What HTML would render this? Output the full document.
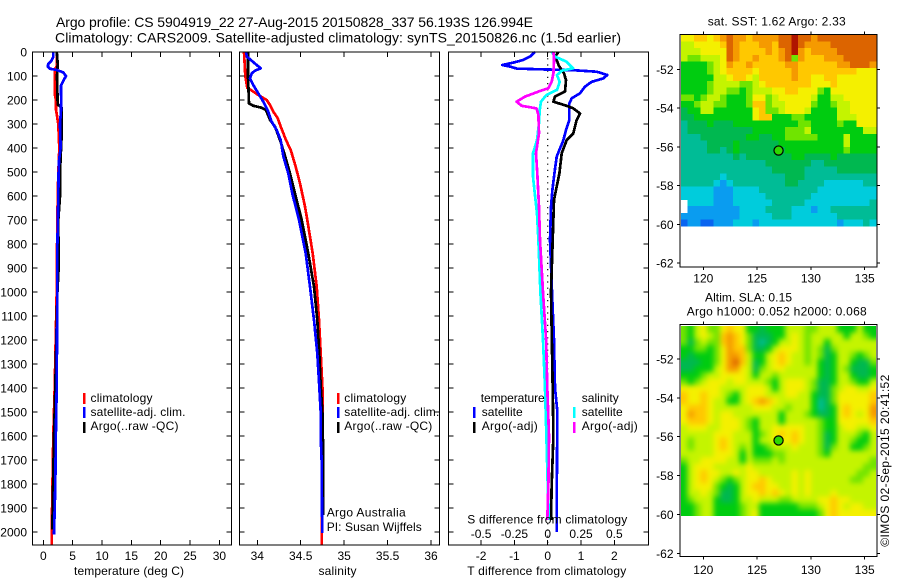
<!DOCTYPE html>
<html lang="en">
<head>
<meta charset="utf-8">
<title>Argo profile 5904919_22</title>
<style>
html,body{margin:0;padding:0;background:#fff;width:900px;height:580px;overflow:hidden}
svg{display:block}
text{font-family:"Liberation Sans",sans-serif;font-size:12px;fill:#000}
.title{font-size:14px}
.small{font-size:12px}
</style>
</head>
<body>
<svg id="chart" width="900" height="580" viewBox="0 0 900 580" xmlns="http://www.w3.org/2000/svg">
  <defs>
    <clipPath id="clip-sla"><rect x="681" y="326" width="195" height="190"/></clipPath>
    <filter id="sla-blur" x="-10%" y="-10%" width="120%" height="120%" color-interpolation-filters="sRGB"><feGaussianBlur stdDeviation="2.6"/></filter>
  </defs>
  <rect width="900" height="580" fill="#fff"/>

  <text class="title" x="56" y="27" textLength="477" lengthAdjust="spacing">Argo profile: CS 5904919_22 27-Aug-2015 20150828_337 56.193S 126.994E</text>
  <text class="title" x="55" y="42.5" textLength="566" lengthAdjust="spacing">Climatology: CARS2009. Satellite-adjusted climatology: synTS_20150826.nc (1.5d earlier)</text>

  <g id="layer-marks"></g>
  <g id="layer-axes"></g>

  <text x="74" y="575" textLength="110" lengthAdjust="spacing">temperature (deg C)</text>
  <text x="318.5" y="575" textLength="38" lengthAdjust="spacing">salinity</text>
  <text x="467.3" y="575" textLength="159" lengthAdjust="spacing">T difference from climatology</text>
  <text x="467.3" y="523.5" textLength="160" lengthAdjust="spacing">S difference from climatology</text>

  <g>
    <rect x="83" y="393" width="2.5" height="11" fill="#f00"/>
    <text x="90.5" y="402" textLength="62" lengthAdjust="spacing">climatology</text>
    <rect x="83" y="407" width="2.5" height="11" fill="#00f"/>
    <text x="90.5" y="416" textLength="95" lengthAdjust="spacing">satellite-adj. clim.</text>
    <rect x="83" y="422" width="2.5" height="11" fill="#000"/>
    <text x="90.5" y="430" textLength="88" lengthAdjust="spacing">Argo(..raw -QC)</text>
  </g>
  <g>
    <rect x="337" y="393" width="2.5" height="11" fill="#f00"/>
    <text x="344.3" y="402" textLength="62" lengthAdjust="spacing">climatology</text>
    <rect x="337" y="407" width="2.5" height="11" fill="#00f"/>
    <text x="344.3" y="416" textLength="95" lengthAdjust="spacing">satellite-adj. clim.</text>
    <rect x="337" y="422" width="2.5" height="11" fill="#000"/>
    <text x="344.3" y="430" textLength="88" lengthAdjust="spacing">Argo(..raw -QC)</text>
  </g>
  <text x="326.7" y="516.7" textLength="79" lengthAdjust="spacing">Argo Australia</text>
  <text x="326.7" y="531" textLength="95" lengthAdjust="spacing">PI: Susan Wijffels</text>

  <g>
    <text x="480.7" y="402" textLength="64" lengthAdjust="spacing">temperature</text>
    <rect x="473" y="407" width="2.5" height="11" fill="#00f"/>
    <text x="481.7" y="416" textLength="41" lengthAdjust="spacing">satellite</text>
    <rect x="473" y="422" width="2.5" height="11" fill="#000"/>
    <text x="481.7" y="430" textLength="56" lengthAdjust="spacing">Argo(-adj)</text>
    <text x="581.7" y="402" textLength="37" lengthAdjust="spacing">salinity</text>
    <rect x="573" y="407" width="2.5" height="11" fill="#0ff"/>
    <text x="581.7" y="416" textLength="41" lengthAdjust="spacing">satellite</text>
    <rect x="573" y="422" width="2.5" height="11" fill="#f0f"/>
    <text x="581.7" y="430" textLength="56" lengthAdjust="spacing">Argo(-adj)</text>
  </g>

  <text x="707.7" y="25.7" textLength="138" lengthAdjust="spacing">sat. SST: 1.62 Argo: 2.33</text>
  <text x="705" y="301.7" textLength="87" lengthAdjust="spacing">Altim. SLA: 0.15</text>
  <text x="686.7" y="315.7" textLength="180" lengthAdjust="spacing">Argo h1000: 0.052 h2000: 0.068</text>
  <text transform="translate(889 546.7) rotate(-90)" x="0" y="0" textLength="172" lengthAdjust="spacing">©IMOS 02-Sep-2015 20:41:52</text>
</svg>

<script>
const depthTicks = [0,100,200,300,400,500,600,700,800,900,1000,1100,1200,1300,1400,1500,1600,1700,1800,1900,2000];
const tempTicks = [0,5,10,15,20,25,30];
const salTicks = [34,34.5,35,35.5,36];
const tDiffTicks = [-2,-1,0,1,2];
const sDiffTicks = [-0.5,-0.25,0,0.25,0.5];
const lonTicks = [120,125,130,135];
const latTicks = [-52,-54,-56,-58,-60,-62];

const tempClimDepth = [0,60,70,100,180,200,240,300,400,450,500,700,1000,1400,1600,1850,2000,2054];
const tempClimValues = [2.3,2.3,2.0,2.0,2.0,2.16,2.16,2.55,2.72,2.66,2.55,2.39,2.28,1.94,1.7,1.53,1.43,1.43];
const tempArgoDepth = [0,50,100,220,230,250,360,500,600,700,900,1000,1400,1600,1900,1990];
const tempArgoValues = [2.3,2.45,2.33,2.45,3.1,3.15,3.1,2.85,2.85,2.56,2.6,2.4,2.05,1.83,1.6,1.55];
const tempSatDepth = [0,20,35,50,60,70,75,85,100,120,140,200,250,300,400,450,500,600,800,1000,1200,1400,1550,1800,1900,2010];
const tempSatValues = [1.7,1.7,1.43,0.85,0.75,1.14,2.3,3.4,3.87,3.4,3.0,3.05,3.0,2.85,2.95,2.7,2.6,2.55,2.4,2.4,2.33,2.28,2.16,2.05,1.94,1.83];

const salClimDepth = [0,100,150,158,179,200,221,249,276,311,367,408,478,547,644,700,839,978,1117,1255,1394,1500,1700,1850,2054];
const salClimValues = [33.847,33.862,33.885,33.924,34.012,34.108,34.146,34.185,34.235,34.269,34.33,34.384,34.442,34.492,34.549,34.576,34.638,34.684,34.71,34.73,34.749,34.755,34.755,34.745,34.74];
const salArgoDepth = [0,100,214,224,232,242,283,311,367,422,506,589,700,839,978,1117,1255,1394,1500,1700,1930];
const salArgoValues = [33.893,33.893,33.904,33.954,34.05,34.1,34.146,34.204,34.261,34.311,34.376,34.434,34.511,34.587,34.653,34.691,34.714,34.73,34.75,34.76,34.76];
const salSatDepth = [0,19,33,54,68,78,89,110,138,172,214,249,290,325,367,436,506,589,700,839,978,1117,1255,1394,1500,1600,1700,1900,2005];
const salSatValues = [33.87,33.88,33.924,33.993,34.04,33.974,33.935,33.916,33.954,34.012,34.081,34.127,34.165,34.223,34.269,34.3,34.357,34.403,34.48,34.557,34.607,34.653,34.691,34.714,34.73,34.73,34.74,34.745,34.748];

const tDiffSatDepth = [0,19,33,44,54,61,69,72,76,82,96,110,124,144,172,193,214,283,325,367,436,506,575,644,783,1000,1200,1400,1500,1700,1900,2000];
const tDiffSatValues = [-0.381,-0.531,-0.731,-1.03,-1.362,-1.13,-0.93,-0.23,0.77,1.47,1.79,1.67,1.32,1.12,0.97,0.72,0.65,0.65,0.55,0.47,0.27,0.2,0.14,0.1,0.07,0.13,0.19,0.22,0.29,0.28,0.27,0.27];
const tDiffArgoDepth = [0,19,40,54,89,117,165,186,207,224,235,256,283,339,367,422,506,561,617,783,1000,1400,1600,1800,1950];
const tDiffArgoValues = [0.32,0.22,0.29,0.32,0.49,0.55,0.52,0.22,0.17,0.57,0.77,0.97,0.87,0.77,0.57,0.42,0.35,0.27,0.19,0.15,0.1,0.15,0.17,0.12,0.1];
const sDiffSatDepth = [0,19,40,68,78,96,124,158,179,207,242,297,367,422,519,575,672,783,1000,1200,1400,1600,1800,1950];
const sDiffSatValues = [0.03,0.055,0.14,0.19,0.105,0.07,0.09,0.07,-0.01,-0.05,-0.06,-0.065,-0.08,-0.11,-0.11,-0.1,-0.08,-0.07,-0.055,-0.035,-0.02,-0.01,0,0.01];
const sDiffArgoDepth = [0,33,89,124,151,165,186,207,224,235,263,339,422,506,644,783,1000,1200,1400,1600,1800,1950];
const sDiffArgoValues = [0.043,0.048,0.043,0.03,0.005,-0.07,-0.17,-0.233,-0.195,-0.083,-0.07,-0.065,-0.088,-0.078,-0.065,-0.058,-0.035,-0.012,-0.003,0.01,0.005,-0.003];

const profileLon = [126.994];
const profileLat = [-56.193];

const mapPalette = ['#0a64f0','#0a9cf0','#00ccdc','#00bc96','#00b850','#00cc10','#70e400','#c4f400','#f4f000','#ffc800','#f59a00','#dc6400','#b01400'];

const sstGrid = [
[8,8,9,9,8,9,10,11,10,10,9,10,10,10,10,11,11,12,11,11,10,11,11,11,11,11,11,11,11,11],
[7,7,8,8,8,8,9,11,10,9,9,9,10,10,9,11,11,12,11,10,10,10,10,11,11,11,11,11,11,11],
[7,7,7,8,8,8,8,11,10,9,9,9,9,10,9,10,11,12,10,9,10,10,10,10,11,11,11,11,11,11],
[7,6,6,7,7,7,8,11,10,9,9,10,9,9,9,10,11,6,10,9,9,9,10,10,10,11,11,11,11,11],
[5,5,5,5,6,7,8,10,9,9,10,9,9,9,9,9,10,10,9,9,9,9,9,9,10,10,11,11,11,10],
[5,5,5,5,6,7,8,9,9,9,9,8,9,9,9,9,9,10,9,9,9,9,9,9,9,9,9,8,8,8],
[5,5,5,5,5,7,7,8,9,9,8,7,9,9,9,9,9,10,9,9,8,8,9,9,8,8,8,8,8,8],
[5,5,5,5,6,7,7,7,7,6,6,7,8,9,9,9,9,9,9,9,8,8,8,9,8,8,8,8,8,8],
[5,5,5,5,6,7,7,6,6,5,6,7,7,7,8,8,9,9,8,8,8,6,5,8,8,8,8,8,8,8],
[6,6,5,6,7,7,6,5,5,5,6,8,8,6,7,8,8,8,8,8,7,5,5,7,7,8,8,8,8,8],
[5,5,6,7,7,6,6,5,5,5,6,9,9,6,7,7,8,8,8,8,6,5,5,6,7,7,8,8,8,8],
[4,5,5,7,7,5,5,5,5,5,5,8,9,6,6,7,8,8,8,7,5,5,5,5,7,7,8,8,8,8],
[4,4,5,5,5,5,5,5,5,5,5,8,9,9,5,5,5,6,6,5,5,5,5,5,7,7,7,8,8,8],
[3,4,4,4,5,4,4,4,5,5,5,5,5,5,5,5,5,5,6,6,5,5,5,5,6,5,5,8,8,8],
[3,4,4,4,4,4,4,4,4,4,4,5,5,5,5,5,6,6,6,7,5,5,5,5,5,5,5,5,7,7],
[3,3,3,4,4,4,4,4,4,4,5,5,4,4,5,5,6,6,6,6,6,5,5,5,5,7,5,5,5,5],
[3,3,3,3,4,4,4,4,5,4,4,4,4,4,4,5,5,5,5,5,5,5,5,5,5,7,5,5,5,5],
[3,3,3,3,4,4,3,4,5,4,4,4,4,4,4,4,5,5,5,5,5,5,5,5,5,6,5,5,5,5],
[3,3,3,3,3,3,3,3,4,3,4,4,4,4,4,4,4,5,5,4,4,4,4,5,4,4,4,4,4,4],
[3,3,3,3,3,3,3,3,3,3,3,3,3,4,4,4,4,4,4,4,3,3,4,4,4,4,4,4,4,4],
[3,3,3,3,3,3,3,3,3,3,3,3,3,3,4,4,4,4,4,3,3,3,3,3,4,4,4,4,4,4],
[3,3,3,3,3,3,2,3,3,3,3,3,3,3,3,3,4,4,4,3,3,3,3,3,3,3,3,3,3,3],
[3,3,3,3,3,2,1,2,3,3,3,3,3,3,3,3,4,4,3,3,3,3,2,2,2,2,2,2,3,3],
[2,2,2,2,2,1,1,1,2,2,2,2,3,3,3,3,3,3,3,3,3,2,2,2,2,2,2,2,2,2],
[2,2,2,2,2,1,1,1,2,2,2,2,2,3,3,3,3,3,3,3,2,2,2,2,2,2,2,2,2,2],
[-1,2,2,2,2,1,1,1,2,2,2,2,2,2,3,3,3,3,3,2,2,2,2,2,2,2,2,2,2,3],
[-1,1,1,1,1,1,1,1,1,2,2,2,2,3,3,3,3,2,2,2,1,2,2,3,3,3,3,3,3,3],
[1,1,1,1,1,1,1,1,1,2,2,2,2,2,3,3,3,2,2,2,2,2,2,2,3,3,3,3,3,3],
[0,1,1,0,0,1,1,1,2,2,2,1,2,2,2,2,2,2,2,2,2,2,2,2,1,2,2,2,3,2]
];

const slaGrid = [
[6,5,7,8,6,6,8,9,8,8,5,5,4,5,5,5,7,7,7,6,6,7,7,7,5,5,5,7,5,5],
[6,5,7,8,7,6,9,10,9,8,6,4,4,4,5,5,7,8,7,6,7,7,7,7,7,5,7,7,6,5],
[6,4,6,7,6,6,9,10,9,8,6,4,3,4,5,7,7,8,7,6,7,7,5,7,7,7,7,7,7,7],
[5,5,6,6,5,6,8,10,9,9,6,4,4,5,7,8,8,8,7,6,7,6,4,6,7,7,7,7,7,7],
[5,4,5,5,5,6,8,10,10,9,7,5,5,7,8,9,8,7,7,6,7,6,4,5,7,7,6,5,6,7],
[4,4,4,5,5,6,8,10,11,9,7,4,5,7,8,9,8,7,7,6,7,5,4,5,7,7,5,4,4,6],
[4,4,5,5,5,7,8,10,10,8,7,4,6,7,8,8,7,7,7,7,7,5,4,5,7,6,4,4,4,5],
[5,5,5,6,7,7,8,8,8,8,7,5,7,7,6,7,7,7,7,7,7,5,4,5,7,7,5,4,4,5],
[6,5,6,7,8,8,8,7,8,8,7,7,7,6,5,7,8,8,8,7,6,4,4,5,7,7,6,5,5,7],
[8,8,8,8,8,8,7,7,7,7,8,8,8,7,5,7,8,8,8,7,6,4,4,6,7,8,8,7,7,8],
[9,8,8,9,8,8,7,6,5,7,8,8,8,7,7,7,8,8,7,7,5,4,4,6,8,8,8,8,8,9],
[9,8,8,9,8,7,7,5,5,7,8,9,10,9,8,7,7,7,7,7,5,3,4,6,8,8,8,8,8,9],
[8,9,9,9,8,7,7,7,7,7,7,8,8,8,7,7,6,7,7,7,5,3,4,5,8,9,8,8,8,10],
[8,10,9,9,8,7,8,8,7,7,7,7,7,7,7,5,7,7,7,6,5,4,4,5,8,9,8,7,8,10],
[8,9,9,9,8,7,8,8,8,7,6,5,7,7,7,5,7,7,7,7,7,6,5,5,8,8,8,8,8,9],
[7,8,8,8,7,7,8,8,8,7,6,5,7,7,8,8,8,8,8,7,7,6,5,5,7,8,8,7,7,8],
[7,7,7,7,7,8,8,8,7,7,7,5,6,7,8,9,8,9,8,7,7,6,4,5,7,7,7,6,5,7],
[7,6,7,7,7,8,9,8,7,7,7,5,7,7,8,8,8,9,8,7,7,6,4,5,7,7,6,5,5,7],
[7,6,7,7,7,8,9,8,7,6,7,5,5,6,7,7,7,8,7,7,7,6,4,6,7,7,5,5,6,7],
[7,7,7,7,7,8,8,8,7,5,7,5,5,5,6,6,7,7,7,7,7,6,5,7,7,7,7,7,7,7],
[6,7,7,8,8,8,8,7,7,5,7,6,6,6,7,6,7,7,7,7,7,7,7,7,7,7,7,7,7,6],
[5,7,8,8,8,7,7,7,7,7,8,7,7,7,7,7,7,7,7,7,7,7,7,7,7,7,7,7,6,6],
[5,7,8,9,8,8,7,7,8,7,8,8,7,7,7,7,7,8,7,8,7,7,7,7,7,7,7,6,6,7],
[5,7,8,9,8,7,6,5,6,7,8,8,9,8,7,7,7,8,7,8,7,7,7,7,7,7,6,6,7,7],
[5,7,8,8,8,6,5,4,5,7,8,9,9,8,8,7,7,8,7,8,7,7,7,7,7,7,7,7,7,7],
[5,7,7,8,7,6,4,4,5,7,8,8,9,8,9,8,7,8,7,8,7,7,7,8,7,7,7,7,7,7],
[5,6,7,7,7,5,4,4,5,7,7,8,7,7,7,6,6,7,7,7,7,8,8,9,8,8,7,7,7,7],
[5,5,6,7,7,5,5,5,5,6,7,7,5,5,5,5,5,5,6,6,6,7,8,9,8,7,8,8,7,7],
[5,5,6,7,7,5,5,5,5,6,7,8,5,5,5,5,5,5,5,5,5,6,8,9,8,8,8,8,8,8]
];

const NS = 'http://www.w3.org/2000/svg';
const marks = document.getElementById('layer-marks');
const axes = document.getElementById('layer-axes');

const yDepth = d => 52 + d * 0.24;
const xTemp = v => 43.3 + v * 5.87;
const xSal = v => 257.3 + (v - 34) * 86.85;
const xTDiff = v => 547.7 + v * 33.3;
const xSDiff = v => 547.7 + v * 133.3;
const xLon = v => 703.3 + (v - 120) * 10.76;
const ySst = v => 69.3 + (-52 - v) * 19.38;
const ySla = v => 359 + (-52 - v) * 19.43;

function make(tag, attrs, parent) {
  const el = document.createElementNS(NS, tag);
  for (const k in attrs) el.setAttribute(k, attrs[k]);
  parent.appendChild(el);
  return el;
}

function drawTickLabel(parent, x, y, anchor, str) {
  const el = make('text', {x: x, y: y, 'text-anchor': anchor}, parent);
  
  
  el.textContent = str;
}

function drawTick(parent, x1, y1, x2, y2) {
  const el = make('line', {x1: x1, y1: y1, x2: x2, y2: y2, stroke: '#000', 'stroke-width': 1, 'shape-rendering': 'crispEdges'}, parent);
  
  
}

function drawFrame(parent, x, y, w, h) {
  const el = make('rect', {x: x, y: y, width: w, height: h, fill: 'none', stroke: '#000', 'stroke-width': 1.2, 'shape-rendering': 'crispEdges'}, parent);
  
  
}

function drawProfile(name, color, depths, values, xScale) {
  const pts = depths.map((d, i) => xScale(values[i]).toFixed(1) + ',' + yDepth(d).toFixed(1)).join(' ');
  const el = make('polyline', {points: pts, fill: 'none', stroke: color, 'stroke-width': 2.7, 'stroke-linejoin': 'round', 'shape-rendering': 'crispEdges'}, marks);
  
  
}

function drawProfileAxes(name, left, right, top, bottom, xScale, ticks, labelFn, withDepthLabels) {
  const g = make('g', {}, axes);
  
  
  drawFrame(g, left, top, right - left, bottom - top);
  ticks.forEach(t => {
    const x = xScale(t);
    drawTick(g, x, top, x, top + 5);
    drawTick(g, x, bottom, x, bottom - 5);
    drawTickLabel(g, x, 560, 'middle', labelFn(t));
  });
  depthTicks.forEach(d => {
    const y = yDepth(d);
    drawTick(g, left, y, left + 5, y);
    drawTick(g, right, y, right - 5, y);
    if (withDepthLabels) drawTickLabel(g, 27, y + 4.5, 'end', String(d));
  });
}

function drawMapCells(name, grid, parent, left, right, top, bottom, bleed) {
  const g = make('g', {}, parent);
  
  
  const rows = grid.length, cols = grid[0].length;
  const cw = (right - left) / cols, ch = (bottom - top) / rows;
  grid.forEach((row, r) => {
    row.forEach((lvl, c) => {
      if (lvl < 0) return;
      let x = left + c * cw, y = top + r * ch, w = cw + 0.5, h = ch + 0.5;
      if (bleed) {
        if (c === 0) { x -= bleed; w += bleed; }
        if (c === cols - 1) { w += bleed; }
        if (r === 0) { y -= bleed; h += bleed; }
        if (r === rows - 1) { h += bleed; }
      }
      const cell = make('rect', {x: x.toFixed(2), y: y.toFixed(2), width: w.toFixed(2), height: h.toFixed(2), fill: mapPalette[lvl], 'shape-rendering': 'crispEdges'}, g);
      
      
    });
  });
  return g;
}

function drawMapAxes(name, top, bottom, yScale, labelY) {
  const g = make('g', {}, axes);
  
  
  drawFrame(g, 680, top, 197, bottom - top);
  lonTicks.forEach(t => {
    const x = xLon(t);
    drawTick(g, x, top, x, top - 3);
    drawTick(g, x, bottom, x, bottom + 3);
    drawTickLabel(g, x, labelY, 'middle', String(t));
  });
  latTicks.forEach(t => {
    const y = yScale(t);
    drawTick(g, 680, y, 677, y);
    drawTick(g, 877, y, 880, y);
    drawTickLabel(g, 673.5, y + 4.5, 'end', String(t));
  });
}

function drawMarker(yScale) {
  const el = make('circle', {cx: xLon(profileLon[0]), cy: yScale(profileLat[0]), r: 4.6, fill: '#2ed800', stroke: '#000', 'stroke-width': 1.2}, axes);
  
  
}

/* temperature panel */
drawProfile('temperature-climatology-line', '#f00', tempClimDepth, tempClimValues, xTemp);
drawProfile('temperature-argo-line', '#000', tempArgoDepth, tempArgoValues, xTemp);
drawProfile('temperature-satellite-line', '#00f', tempSatDepth, tempSatValues, xTemp);

/* salinity panel */
drawProfile('salinity-climatology-line', '#f00', salClimDepth, salClimValues, xSal);
drawProfile('salinity-argo-line', '#000', salArgoDepth, salArgoValues, xSal);
drawProfile('salinity-satellite-line', '#00f', salSatDepth, salSatValues, xSal);

/* difference panel */
const zeroLine = make('line', {x1: xTDiff(0), y1: 52, x2: xTDiff(0), y2: 545, stroke: '#000', 'stroke-width': 1.2, 'stroke-dasharray': '1.2 5'}, marks);


drawProfile('t-difference-satellite-line', '#00f', tDiffSatDepth, tDiffSatValues, xTDiff);
drawProfile('t-difference-argo-line', '#000', tDiffArgoDepth, tDiffArgoValues, xTDiff);
drawProfile('s-difference-satellite-line', '#0ff', sDiffSatDepth, sDiffSatValues, xSDiff);
drawProfile('s-difference-argo-line', '#f0f', sDiffArgoDepth, sDiffArgoValues, xSDiff);

drawProfileAxes('temperature-axes', 32.5, 231.5, 52, 545, xTemp, tempTicks, String, true);
drawProfileAxes('salinity-axes', 239.5, 439.5, 52, 545, xSal, salTicks, String, false);
drawProfileAxes('difference-axes', 448.5, 648.5, 52, 545, xTDiff, tDiffTicks, String, false);

sDiffTicks.forEach(t => {
  drawTickLabel(axes, xSDiff(t), 538, 'middle', String(t));
});

/* maps */
drawMapCells('sst-map-cells', sstGrid, marks, 681, 876, 35, 226, 0);

const slaClip = make('g', {'clip-path': 'url(#clip-sla)'}, marks);


const slaBlur = make('g', {filter: 'url(#sla-blur)'}, slaClip);


drawMapCells('sla-map-cells', slaGrid, slaBlur, 681, 876, 326, 516, 14);

drawMapAxes('sst-map-axes', 34.5, 267, ySst, 282.7);
drawMapAxes('sla-map-axes', 324.5, 556.5, ySla, 574);
drawMarker(ySst);
drawMarker(ySla);
</script>
</body>
</html>
